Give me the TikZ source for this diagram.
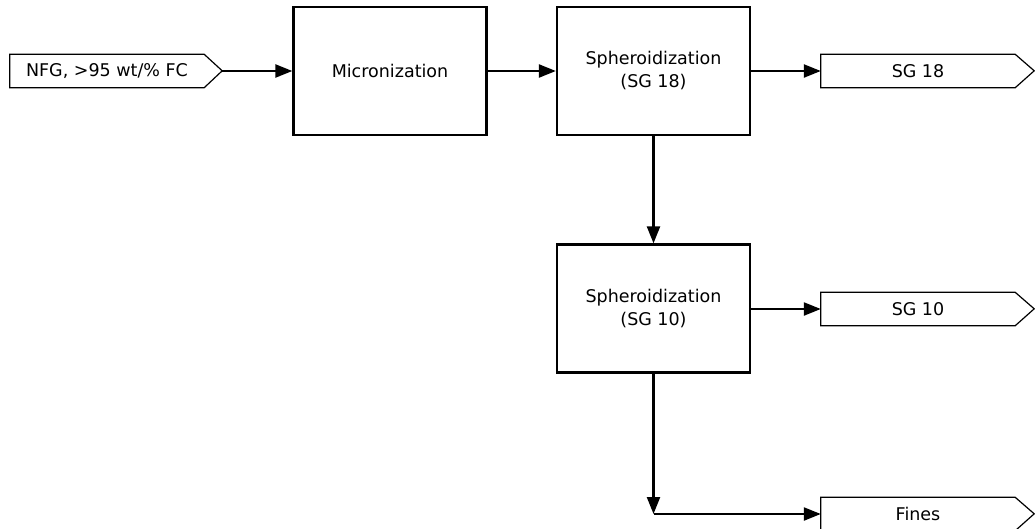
\documentclass[tikz,border=0pt]{standalone}
\usepackage{fontspec}
\setmainfont{DejaVu Sans}
\usetikzlibrary{arrows.meta}
\begin{document}
\begin{tikzpicture}[x=1pt,y=-1pt,
  font=\fontsize{17.5}{23}\selectfont,
  proc/.style={draw, line width=2.3pt, minimum width=193pt, minimum height=128pt, align=center, inner sep=0pt},
  flag/.style={minimum width=194pt, minimum height=33pt, inner sep=0pt},
  flagline/.style={draw, line width=1.2pt, line join=miter},
  conn/.style={line width=2.3pt, -{Triangle[length=17pt,width=13pt]}}]
\useasboundingbox (0,0) rectangle (1035,528);
\clip (0,0) rectangle (1035,528);
% input
\node[flag] (in) at (107,71) {NFG, >95 wt/\% FC};
\draw[flagline] (in.north west) -- (in.north east) -- ++(18,16.5) -- (in.south east) -- (in.south west) -- cycle;
\path (in.east) ++(18,0) coordinate (intip);
% process boxes
\node[proc] (micro) at (390,71) {Micronization};
\node[proc] (sph18) at (653.5,71) {Spheroidization\\(SG 18)};
\node[proc] (sph10) at (653.5,308.5) {Spheroidization\\(SG 10)};
% outputs
\node[flag] (o18) at (918,71) {SG 18};
\draw[flagline] (o18.north west) -- (o18.north east) -- ++(19,16.5) -- (o18.south east) -- (o18.south west) -- cycle;
\node[flag] (o10) at (918,309) {SG 10};
\draw[flagline] (o10.north west) -- (o10.north east) -- ++(19,16.5) -- (o10.south east) -- (o10.south west) -- cycle;
\node[flag] (fines) at (918,514) {Fines};
\draw[flagline] (fines.north west) -- (fines.north east) -- ++(19,16.5) -- (fines.south east) -- (fines.south west) -- cycle;
\coordinate (corner) at (653.5,514);
% connectors
\draw[conn] (intip) -- (micro.west);
\draw[conn] (micro.east) -- (sph18.west);
\draw[conn] (sph18.east) -- (o18.west);
\draw[conn] (sph18.south) -- (sph10.north);
\draw[conn] (sph10.east |- o10.west) -- (o10.west);
\draw[conn] (sph10.south) -- (corner);
\draw[conn] (corner) -- (fines.west);
\end{tikzpicture}
\end{document}
